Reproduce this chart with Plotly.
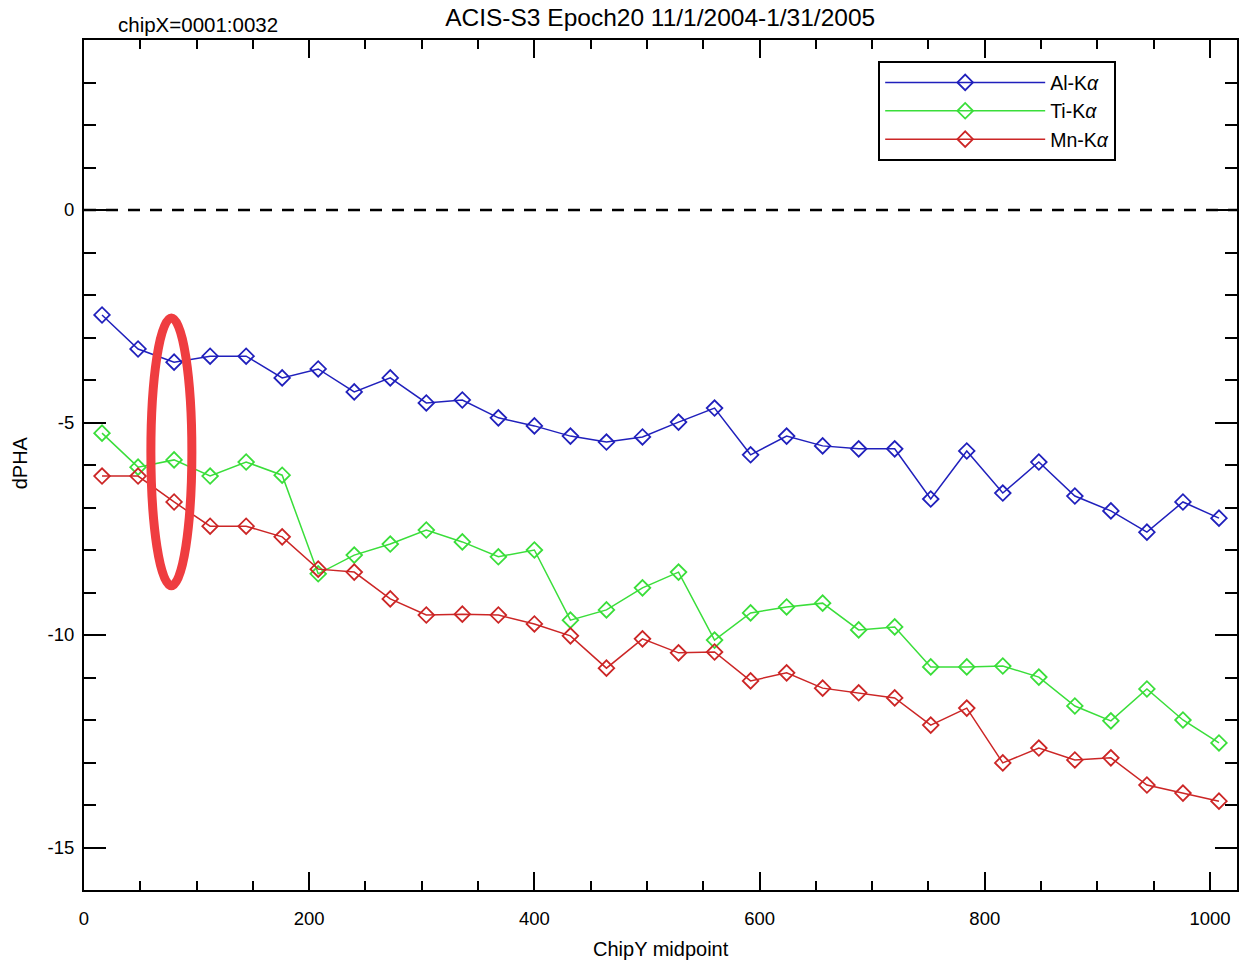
import plotly.graph_objects as go

chip_y = [16, 48, 80, 112, 144, 176, 208, 240, 272, 304, 336, 368, 400, 432, 464, 496,
          528, 560, 592, 624, 656, 688, 720, 752, 784, 816, 848, 880, 912, 944, 976, 1008]

al_ka = [-2.47, -3.27, -3.58, -3.44, -3.44, -3.95, -3.74, -4.28, -3.95, -4.54, -4.47, -4.89,
         -5.08, -5.32, -5.46, -5.34, -4.99, -4.66, -5.76, -5.32, -5.55, -5.62, -5.62, -6.80,
         -5.67, -6.66, -5.93, -6.73, -7.08, -7.58, -6.87, -7.25]
ti_ka = [-5.25, -6.05, -5.88, -6.26, -5.93, -6.24, -8.56, -8.12, -7.86, -7.53, -7.81, -8.16,
         -8.00, -9.65, -9.41, -8.89, -8.52, -10.12, -9.48, -9.34, -9.25, -9.88, -9.81, -10.75,
         -10.75, -10.73, -10.99, -11.67, -12.02, -11.27, -12.00, -12.54]
mn_ka = [-6.26, -6.26, -6.87, -7.44, -7.44, -7.69, -8.45, -8.52, -9.15, -9.53, -9.51, -9.53,
         -9.74, -10.02, -10.78, -10.09, -10.42, -10.40, -11.08, -10.89, -11.25, -11.36, -11.48,
         -12.12, -11.72, -13.01, -12.66, -12.94, -12.89, -13.53, -13.72, -13.91]

y_tick_vals = [-15, -10, -5, 0]
y_tick_text = ["-15", "-10", "-5", "0"]
x_tick_vals = [0, 200, 400, 600, 800, 1000]
x_tick_text = ["0", "200", "400", "600", "800", "1000"]

series = [
    ("Al-K<i>α</i>", al_ka, "#2020bc"),
    ("Ti-K<i>α</i>", ti_ka, "#3ade3a"),
    ("Mn-K<i>α</i>", mn_ka, "#cc2626"),
]

FONT = "Liberation Sans, Arial, Helvetica, sans-serif"

fig = go.Figure()
for name, vals, col in series:
    fig.add_trace(go.Scatter(
        x=chip_y, y=vals, name=name, mode="lines+markers",
        line=dict(color=col, width=1.5),
        marker=dict(symbol="diamond-open", size=12, color=col, line=dict(width=1.8, color=col)),
    ))

# dashed zero line
fig.add_shape(type="line", xref="paper", yref="y", x0=0, x1=1, y0=0, y1=0,
              line=dict(color="black", width=2.5, dash="12px,10px"), layer="above")

# red highlight ellipse
fig.add_shape(type="circle", xref="x", yref="y", x0=59.4, x1=95.8, y0=-2.54, y1=-8.84,
              line=dict(color="#ef3d40", width=9), layer="above")

fig.add_annotation(text="chipX=0001:0032", xref="paper", yref="paper", x=0.028, y=1.0,
                   xanchor="left", yanchor="bottom", yshift=2, showarrow=False,
                   font=dict(family=FONT, size=20.5, color="black"))

# axis titles
fig.add_annotation(text="ChipY midpoint", xref="paper", yref="paper", x=0.5, y=0,
                   xanchor="center", yanchor="middle", yshift=-59, showarrow=False,
                   font=dict(family=FONT, size=20, color="black"))
fig.add_annotation(text="dPHA", xref="paper", yref="paper", x=0, y=0.502,
                   xanchor="center", yanchor="middle", xshift=-64, textangle=-90,
                   showarrow=False, font=dict(family=FONT, size=20, color="black"))

axis_common = dict(showgrid=False, zeroline=False, showline=True, linecolor="black",
                   linewidth=2, mirror="ticks", ticks="inside", tickcolor="black",
                   tickwidth=2, automargin=False,
                   tickfont=dict(family=FONT, size=18.5, color="black"))

fig.update_xaxes(range=[0, 1024], tickmode="array", tickvals=x_tick_vals, ticktext=x_tick_text,
                 ticklen=18,
                 minor=dict(tickmode="linear", tick0=0, dtick=50, ticklen=9, ticks="inside",
                            tickcolor="black", tickwidth=2),
                 ticklabelstandoff=11,
                 **axis_common)
fig.update_yaxes(range=[-16, 4], tickmode="array", tickvals=y_tick_vals, ticktext=y_tick_text,
                 ticklen=22,
                 minor=dict(tickmode="linear", tick0=0, dtick=1, ticklen=12, ticks="inside",
                            tickcolor="black", tickwidth=2),
                 ticklabelstandoff=4,
                 **axis_common)

fig.update_layout(
    width=1248, height=961,
    margin=dict(l=84, r=11, t=40, b=71),
    paper_bgcolor="white", plot_bgcolor="white",
    title=dict(text="ACIS-S3 Epoch20 11/1/2004-1/31/2005", x=0.529, xanchor="center",
               y=0.982, yanchor="middle", font=dict(family=FONT, size=24.5, color="black")),
    legend=dict(x=0.6888, y=0.975, xanchor="left", yanchor="top",
                bordercolor="black", borderwidth=2, bgcolor="white",
                font=dict(family=FONT, size=19.5, color="black"),
                itemwidth=160, tracegroupgap=0),
    showlegend=True,
)

fig.write_html("out.html")
